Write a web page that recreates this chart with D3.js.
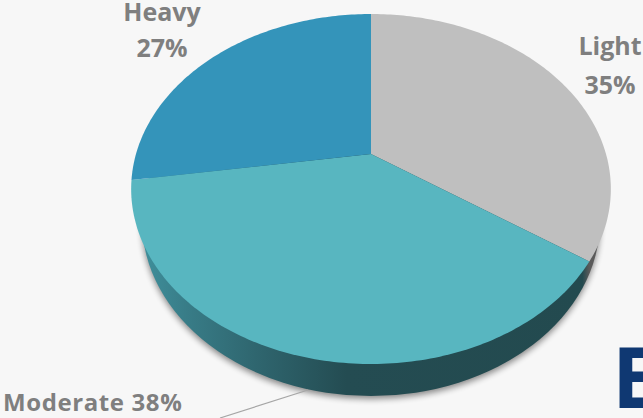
<!DOCTYPE html>
<html><head><meta charset="utf-8">
<script src="https://cdn.jsdelivr.net/npm/d3@7"></script>
<style>html,body{margin:0;padding:0;background:#f7f7f7;overflow:hidden}svg{display:block}</style>
</head><body><svg id="c" width="643" height="418"></svg>
<script>
const categories = ["Light", "Moderate", "Heavy"];
const shares = [34.6, 38, 27.4];
const colours = ["#bfbfbf", "#58b6c0", "#3494ba"];
const labelLines = [["Light", "35%"], ["Moderate 38%"], ["Heavy", "27%"]];

const svg = d3.select("#c");
const defs = svg.append("defs");
defs.append("filter").attr("id","blur").attr("x","-10%").attr("y","-10%").attr("width","120%").attr("height","120%")
  .append("feGaussianBlur").attr("stdDeviation",3);
const grad = defs.append("linearGradient").attr("id","side").attr("gradientUnits","userSpaceOnUse")
  .attr("x1",142).attr("x2",596).attr("y1",0).attr("y2",0);
[[0,"#3f8f9b"],[0.1,"#387c87"],[0.25,"#2f666f"],[0.45,"#244c52"],[0.97,"#234a4f"],[0.985,"#5a5a5a"],[1,"#5a5a5a"]]
  .forEach(([o,c])=>grad.append("stop").attr("offset",o).attr("stop-color",c));

// perspective of the pie's top face
const k = -0.2;
const sx = d3.scaleLinear().domain([-1,1]).range([371-235,371+235]);
const sy = d3.scaleLinear().domain([-1,1]).range([154-168,154+168]);
const project = a => {
  const u = Math.sin(a), v = -Math.cos(a), w = 1 + k*v;
  return [sx(u/w), sy(v/w)];
};
const arcs = d3.pie().sort(null).value(d=>d)(shares);
const line = d3.line();

// extruded base
const base = svg.append("g");
const baseEllipse = s => s.attr("cx",371).attr("cy",221).attr("rx",229).attr("ry",175);
base.append("ellipse").call(baseEllipse).attr("transform","translate(0,3)")
  .attr("fill","#000").attr("opacity",0.45).attr("filter","url(#blur)");
base.append("ellipse").call(baseEllipse).attr("fill","url(#side)");

// leader line
svg.append("line").attr("x1",308).attr("y1",390).attr("x2",220).attr("y2",418)
  .attr("stroke","#a6a6a6").attr("stroke-width",1.2);

// top face
svg.append("g").selectAll("path").data(arcs).join("path")
  .attr("fill",(d,i)=>colours[i])
  .attr("d",d=>{
    const n = Math.ceil((d.endAngle-d.startAngle)*60);
    const pts = d3.range(n+1).map(i=>project(d.startAngle+(d.endAngle-d.startAngle)*i/n));
    return line([[371,154],...pts])+"Z";
  });

// labels
const fontFamily = "'Open Sans','Noto Sans',sans-serif";
const labelPos = [
  {x:610, ys:[55,94], fs:25, anchor:"middle", ls:0},
  {x:3, ys:[411], fs:24, anchor:"start", ls:0.6},
  {x:162, ys:[21,57], fs:25, anchor:"middle", ls:0}
];
labelLines.forEach((ls,i)=>{
  ls.forEach((t,j)=>{
    svg.append("text").attr("x",labelPos[i].x).attr("y",labelPos[i].ys[j])
      .attr("text-anchor",labelPos[i].anchor)
      .attr("font-family",fontFamily).attr("font-weight",700).attr("font-size",labelPos[i].fs)
      .attr("letter-spacing",labelPos[i].ls)
      .attr("fill","#7f7f7f").text(t);
  });
});

// cropped logo letter
svg.append("text").attr("x",612).attr("y",408)
  .attr("font-family",fontFamily).attr("font-weight",700).attr("font-size",84)
  .attr("fill","#0f3872").text("E");
</script></body></html>
